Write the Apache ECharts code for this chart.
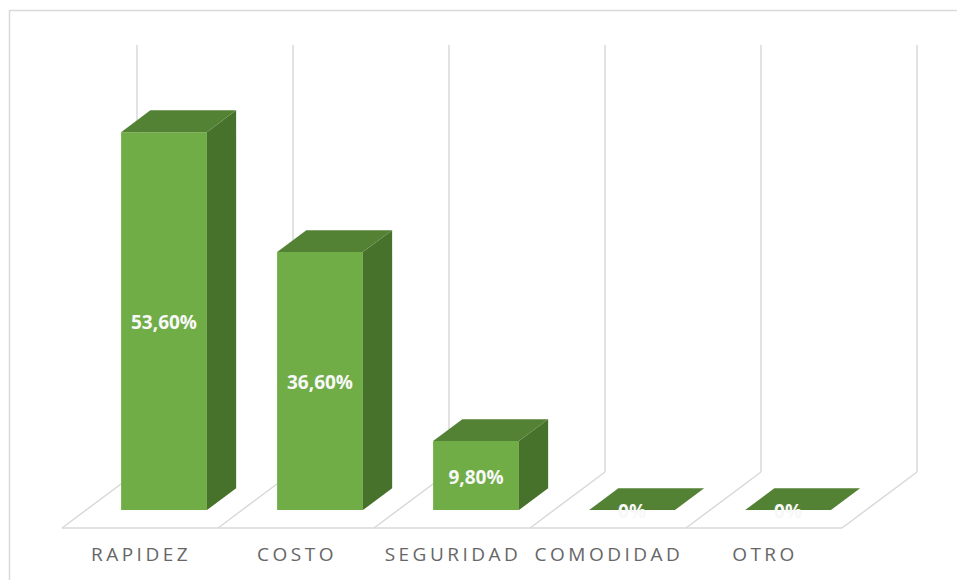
<!DOCTYPE html>
<html lang="es">
<head>
  <meta charset="UTF-8" />
  <title>Barras 3D</title>
  <script src="https://cdn.jsdelivr.net/npm/echarts@6/dist/echarts.min.js"></script>
</head>
<body style="margin:0;overflow:hidden;background:#fff;">
  <div id="panel" style="width:957px;height:580px;"></div>
  <script>
    var categories = ['RAPIDEZ', 'COSTO', 'SEGURIDAD', 'COMODIDAD', 'OTRO'];
    var values = [53.6, 36.6, 9.8, 0, 0];
    var valueLabels = ['53,60%', '36,60%', '9,80%', '0%', '0%'];

    // depth of the floor (back plane -> front edge)
    var DX = -75, DY = 56;
    var FRONT = 0.68, BACK = 0.29;   // bar depth position as fraction of floor depth
    var gridLine = '#d9d9d9';

    var myChart = echarts.init(document.getElementById('panel'), null, { renderer: 'svg' });

    function floorItem(params, api) {
      var i = api.value(0);
      var c = api.coord([i, 0]);
      var w = api.size([1, 0])[0];
      var yb = c[1];
      var ytop = api.coord([i, 60])[1] - 4;
      var xl = c[0] - w / 2, xr = c[0] + w / 2;
      var st = { stroke: gridLine, lineWidth: 1.5 };
      var kids = [
        { type: 'line', shape: { x1: xl, y1: ytop, x2: xl, y2: yb }, style: st },
        { type: 'line', shape: { x1: xl, y1: yb, x2: xl + DX, y2: yb + DY }, style: st },
        { type: 'line', shape: { x1: xl + DX, y1: yb + DY, x2: xr + DX, y2: yb + DY }, style: st },
        {
          type: 'text', x: c[0] + DX + 1, y: yb + DY + 26,
          style: {
            text: categories[i], fill: '#666666', font: '19px "Open Sans"',
            align: 'center', verticalAlign: 'middle'
          }
        }
      ];
      if (i === categories.length - 1) {
        kids.push({ type: 'line', shape: { x1: xr, y1: ytop, x2: xr, y2: yb }, style: st });
        kids.push({ type: 'line', shape: { x1: xr, y1: yb, x2: xr + DX, y2: yb + DY }, style: st });
      }
      return { type: 'group', children: kids };
    }

    function barItem(params, api) {
      var i = api.value(0);
      var base = api.coord([i, 0]);
      var top = api.coord([i, api.value(1)]);
      var w = api.size([1, 0])[0] * 0.55;
      var fx = DX * FRONT, fy = DY * FRONT, bx = DX * BACK, by = DY * BACK;
      var x1 = base[0] - w / 2 + fx, x2 = base[0] + w / 2 + fx;
      var yt = top[1] + fy, yb = base[1] + fy;
      var ox = bx - fx, oy = by - fy;
      var kids = [
        { type: 'rect', shape: { x: x1, y: yt, width: w, height: yb - yt }, style: { fill: '#70ad47' } },
        {
          type: 'polygon',
          shape: { points: [[x2, yt], [x2 + ox, yt + oy], [x2 + ox, yb + oy], [x2, yb]] },
          style: { fill: '#47722b' }
        },
        {
          type: 'polygon',
          shape: { points: [[x1, yt], [x2, yt], [x2 + ox, yt + oy], [x1 + ox, yt + oy]] },
          style: { fill: '#548235' }
        },
        {
          type: 'text', x: (x1 + x2) / 2, y: (yt + yb) / 2 + 1,
          style: {
            text: valueLabels[i], fill: '#f8f8f8', font: 'bold 19px "Open Sans"',
            align: 'center', verticalAlign: 'middle'
          }
        }
      ];
      return { type: 'group', children: kids };
    }

    var option = {
      animation: false,
      graphic: [{
        type: 'rect', shape: { x: 9.5, y: 10.5, width: 1000, height: 700 },
        style: { fill: 'none', stroke: gridLine, lineWidth: 1.5 }, z: -1
      }],
      grid: { left: 137, right: 40, top: 49, bottom: 108 },
      xAxis: { type: 'category', data: categories, show: false },
      yAxis: { type: 'value', min: 0, max: 60, show: false },
      series: [
        {
          type: 'custom', name: 'floor', renderItem: floorItem,
          data: categories.map(function (n, i) { return [i, 0]; }),
          encode: { x: 0, y: 1 }, silent: true, z: 1
        },
        {
          type: 'custom', name: 'valor', renderItem: barItem,
          data: values.map(function (v, i) { return [i, v]; }),
          encode: { x: 0, y: 1 }, z: 2
        }
      ]
    };

    myChart.setOption(option);

    // spaced-out category captions like the original
    function spaceLabels() {
      var texts = document.querySelectorAll('#panel text');
      texts.forEach(function (t) {
        if (categories.indexOf(t.textContent) >= 0) {
          t.style.letterSpacing = '3.5px';
        }
      });
    }
    myChart.on('finished', spaceLabels);
    setTimeout(spaceLabels, 50);
  </script>
</body>
</html>
